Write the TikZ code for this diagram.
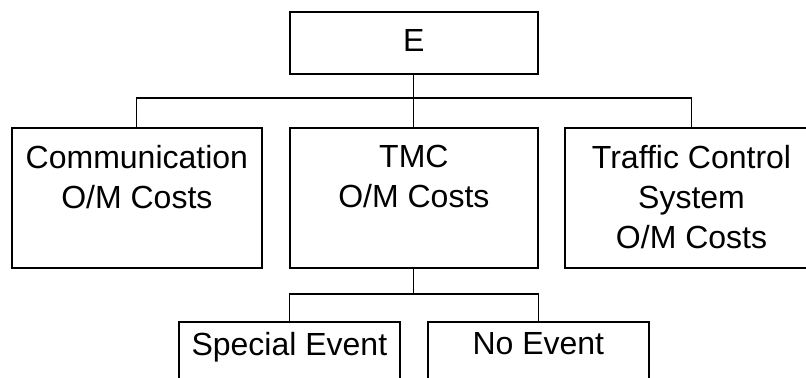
\documentclass[tikz,border=0pt]{standalone}
\usepackage{fontspec}
\setmainfont{Liberation Sans}
% fixed-size box content: width, height, top padding, text
\newcommand\boxtext[4]{\parbox[t][#2][t]{#1}{\centering\vspace*{#3}#4\par}}
\begin{document}
\begin{tikzpicture}[x=0.75pt,y=-0.75pt,
  box/.style={draw,line width=1.3pt,inner sep=0pt,anchor=north west,
    font=\fontsize{24}{30}\selectfont},
  link/.style={line width=0.8pt}]
\useasboundingbox[fill=white] (0,0) rectangle (806,378);
\clip (0,0) rectangle (806,378);

% top level
\node[box] (E) at (289,11) {\boxtext{186pt}{46.5pt}{13.5pt}{E}};

% second level
\node[box] (comm) at (11,127) {\boxtext{187.5pt}{105pt}{13pt}{Communication\\O/M Costs}};
\node[box] (tmc) at (289,127) {\boxtext{186pt}{105pt}{13pt}{TMC\\O/M Costs}};
\node[box] (traffic) at (564,127) {\boxtext{190pt}{105pt}{13pt}{Traffic Control\\System\\O/M Costs}};

% third level
\node[box] (special) at (178,321) {\boxtext{165.75pt}{52pt}{8pt}{Special Event}};
\node[box] (noevent) at (427,321) {\boxtext{165.75pt}{52pt}{8pt}{No Event}};

% connectors
\coordinate (bus) at (E.south |- 0,98);
\coordinate (bus2) at (tmc.south |- 0,294);
\draw[link] (E.south) -- (bus);
\draw[link] (comm.north) |- (bus) -| (traffic.north);
\draw[link] (bus) -- (tmc.north);
\draw[link] (tmc.south) -- (bus2);
\draw[link] (special.north) |- (bus2) -| (noevent.north);
\end{tikzpicture}
\end{document}
